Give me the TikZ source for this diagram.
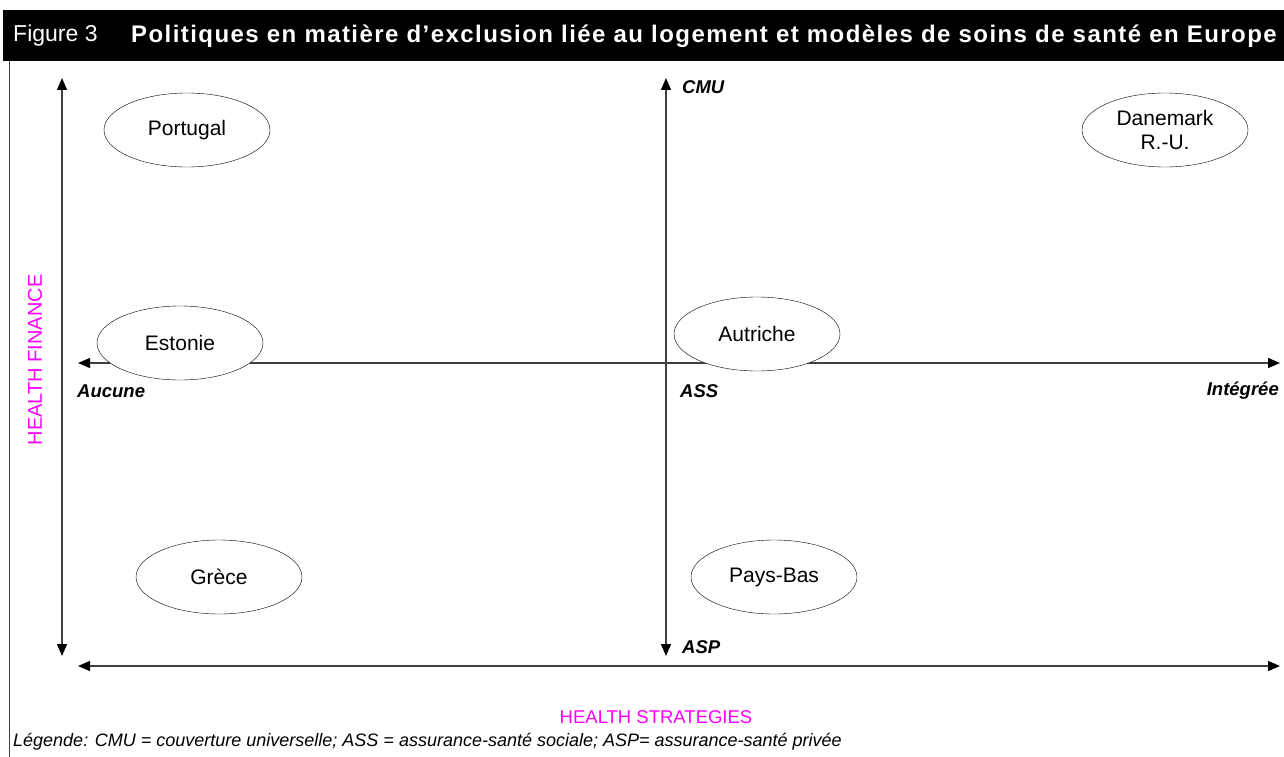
\documentclass[tikz,border=0pt]{standalone}
\usepackage{fontspec}
\setmainfont{Liberation Sans}
\newfontfamily\widebold[LetterSpace=6]{Liberation Sans}
\usepackage{tikz}
\usetikzlibrary{positioning,arrows.meta,shapes.geometric}
\definecolor{hpink}{RGB}{255,0,255}

\begin{document}
\begin{tikzpicture}[x=1pt, y=-1pt,
    main/.style = {draw, ellipse, fill=white, inner sep=0pt, minimum width=166pt, minimum height=74pt, align=center, font=\fontsize{21}{24}\selectfont},
    lab/.style = {inner sep=0pt, font=\fontsize{18.5}{22}\selectfont\bfseries\itshape},
    axis/.style = {draw=black!75, line width=1.3pt, {Triangle[length=12pt,width=10pt,black]}-{Triangle[length=12pt,width=10pt,black]}},
    hlab/.style = {inner sep=0pt, text=hpink}]
    \useasboundingbox (0,0) rectangle (1284,757);

    % header
    \fill (3,10) rectangle (1284,61);
    \draw[black!75, line width=1pt] (9,61) -- (9,757);
    \node[anchor=west, inner sep=0pt, text=white, font=\fontsize{23}{26}\selectfont] (fig) at (13,36) {Figure 3};
    \node[anchor=west, inner sep=0pt, text=white, font=\fontsize{24}{26}\widebold\bfseries] (title) at (131,36) {Politiques en matière d’exclusion liée au logement et modèles de soins de santé en Europe};

    % axes
    \coordinate (ltop) at (62,78);
    \coordinate (lbot) at (62,656);
    \coordinate (ctop) at (666,78);
    \coordinate (cbot) at (666,656);
    \coordinate (mleft) at (78,363);
    \coordinate (mright) at (1280,363);
    \coordinate (bleft) at (78,666);
    \coordinate (bright) at (1280,666);
    \draw[axis] (ltop) -- (lbot);
    \draw[axis] (ctop) -- (cbot);
    \draw[axis] (mleft) -- (mright);
    \draw[axis] (bleft) -- (bright);

    \node[lab, anchor=west] (cmu) at (682,87) {CMU};
    \node[lab, anchor=west] (asp) at (682,647) {ASP};
    \node[lab, anchor=west] (aucune) at (77,391) {Aucune};
    \node[lab, anchor=west] (ass) at (680,391) {ASS};
    \node[lab, anchor=east] (integ) at (1279,391) {Intégrée};

    \node[hlab, font=\fontsize{18.5}{22}\selectfont] (strat) at (656,717) {HEALTH STRATEGIES};
    \node[hlab, rotate=90, font=\fontsize{20}{24}\selectfont] (fin) at (35,360) {HEALTH FINANCE};

    % countries
    \node[main] (por) at (187,130) {Portugal};
    \node[main] (dan) at (1165,130) {Danemark\\R.-U.};
    \node[main] (est) at (180,343) {Estonie};
    \node[main] (aut) at (757,334) {Autriche};
    \node[main] (gre) at (219,577) {Grèce};
    \node[main] (pay) at (774,577) {Pays-Bas};

    \node[anchor=west, inner sep=0pt, font=\fontsize{18}{21}\selectfont\itshape] (leg) at (13,742) {Légende: CMU = couverture universelle; ASS = assurance-santé sociale; ASP= assurance-santé privée};
\end{tikzpicture}
\end{document}
